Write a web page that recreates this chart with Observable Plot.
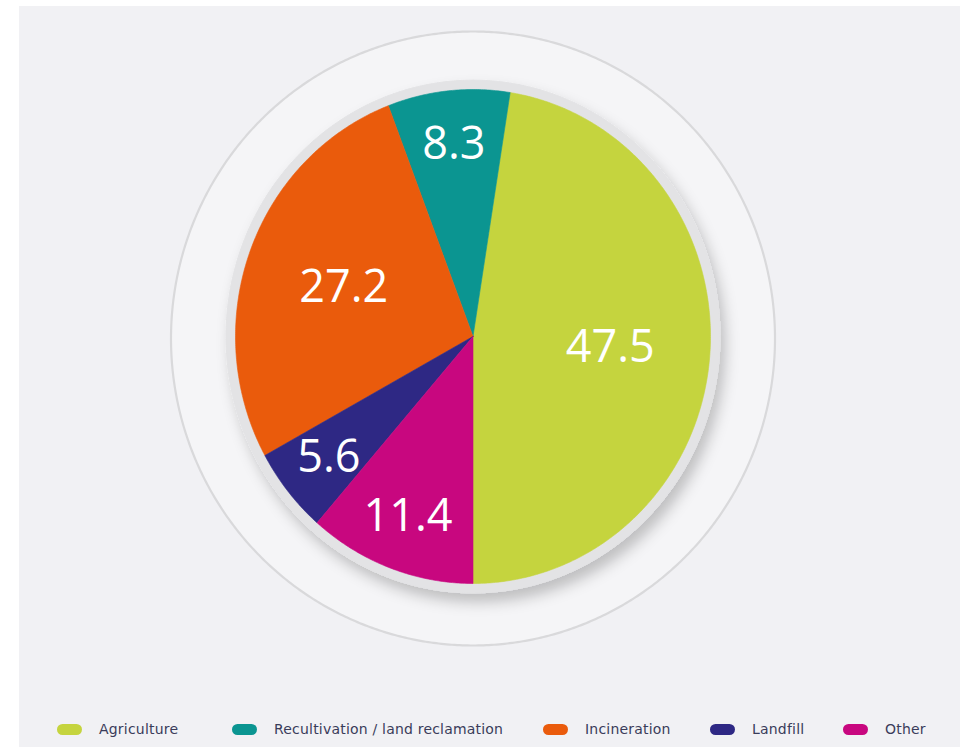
<!DOCTYPE html>
<html>
<head>
<meta charset="utf-8">
<script src="https://cdn.jsdelivr.net/npm/d3@7"></script>
<script src="https://cdn.jsdelivr.net/npm/@observablehq/plot@0.6"></script>
<style>
  html, body { margin: 0; padding: 0; background: #ffffff; }
  #frame { position: absolute; left: 19px; top: 6px; width: 941px; height: 741px; background: #f1f1f4; }
  #chart { position: absolute; left: 0; top: 0; }
  #legend { position: absolute; left: 0; top: 720px; width: 966px; height: 18px;
            font-family: "DejaVu Sans", Verdana, sans-serif; font-size: 14px; letter-spacing: 0.2px; color: #3a3c5a; }
  .item { position: absolute; top: 0; display: flex; align-items: center; height: 18px; white-space: nowrap; }
  .sw { width: 25px; height: 11px; border-radius: 6px; margin-right: 17px; }
</style>
</head>
<body>
<div id="frame"></div>
<div id="chart"></div>
<div id="legend"></div>
<script>
// ---- data ----
const categories = ["Agriculture", "Recultivation / land reclamation", "Incineration", "Landfill", "Other"];
const values = [47.5, 8.3, 27.2, 5.6, 11.4];
const colors = ["#c5d43e", "#0b9591", "#ea5b0c", "#2e2884", "#c8077f"];
const labels = ["47.5", "8.3", "27.2", "5.6", "11.4"];

// ---- geometry (layout) ----
const W = 966, H = 700;
const CX = 472.5, CY = 336, RX = 237.5, RY = 247;   // pixel centre / radii of the pie
const rad = d => d * Math.PI / 180;
const total = d3.sum(values);

// slices: start at the bottom (180°) and run counter-clockwise in legend order
let cum = 0;
const slicePts = [];
const labelPts = [];
categories.forEach((c, i) => {
  const a0 = 180 - cum / total * 360;
  const a1 = 180 - (cum + values[i]) / total * 360;
  cum += values[i];
  slicePts.push({name: c, x: 0, y: 0});
  const n = Math.max(2, Math.ceil(Math.abs(a0 - a1) * 2));
  for (let k = 0; k <= n; k++) {
    const a = rad(a0 + (a1 - a0) * k / n);
    slicePts.push({name: c, x: Math.sin(a), y: Math.cos(a)});
  }
  slicePts.push({name: c, x: 0, y: 0});
  const am = rad((a0 + a1) / 2);
  const r = values[i] > 20 ? 0.58 : 0.78;
  labelPts.push({label: labels[i], x: r * Math.sin(am), y: r * Math.cos(am)});
});

function ellipse(name, rx, ry, oy = 0) {
  const pts = [];
  for (let k = 0; k <= 720; k++) {
    const a = rad(k / 2);
    pts.push({name, x: rx * Math.sin(a), y: oy + ry * Math.cos(a)});
  }
  return pts;
}
const ring = ellipse("ring", 302 / RX, 307 / RY, -2 / RY);
const border = ellipse("border", 1.04, 1.038);

const plot = Plot.plot({
  width: W, height: H,
  margin: 0,
  x: {domain: [-CX / RX, (W - CX) / RX], axis: null},
  y: {domain: [(CY - H) / RY, CY / RY], axis: null},
  color: {domain: categories, range: colors},
  style: {background: "transparent", overflow: "visible"},
  marks: [
    Plot.line(ring, {x: "x", y: "y", fill: "#f5f5f7", stroke: "#d9d9db", strokeWidth: 2.2}),
    Plot.line(border, {x: "x", y: "y", fill: "#e3e3e5", stroke: "#e3e3e5", strokeWidth: 1}),
    Plot.line(slicePts, {x: "x", y: "y", z: "name", fill: "name", stroke: "name", strokeWidth: 0.6}),
    Plot.text(labelPts, {x: "x", y: "y", text: "label", fill: "white", fontSize: 45,
      fontFamily: "'Open Sans', sans-serif", fontWeight: 400})
  ]
});
document.getElementById("chart").appendChild(plot);

// soft drop shadow below the pie border (second mark group)
const svg = d3.select(plot);
const defs = svg.insert("defs", ":first-child");
const f = defs.append("filter").attr("id", "pieShadow").attr("x", "-20%").attr("y", "-20%").attr("width", "140%").attr("height", "140%");
f.append("feDropShadow").attr("dx", 5).attr("dy", 9).attr("stdDeviation", 7)
  .attr("flood-color", "#000").attr("flood-opacity", 0.22);
const groups = svg.selectAll(":scope > g[aria-label='line']").nodes();
if (groups[1]) d3.select(groups[1]).attr("filter", "url(#pieShadow)");

// legend
const legendX = [57, 232, 543, 710, 843];
const lg = document.getElementById("legend");
categories.forEach((c, i) => {
  const it = document.createElement("div");
  it.className = "item";
  it.style.left = legendX[i] + "px";
  const sw = document.createElement("span");
  sw.className = "sw";
  sw.style.background = colors[i];
  const tx = document.createElement("span");
  tx.textContent = c;
  it.appendChild(sw); it.appendChild(tx);
  lg.appendChild(it);
});
</script>
</body>
</html>
